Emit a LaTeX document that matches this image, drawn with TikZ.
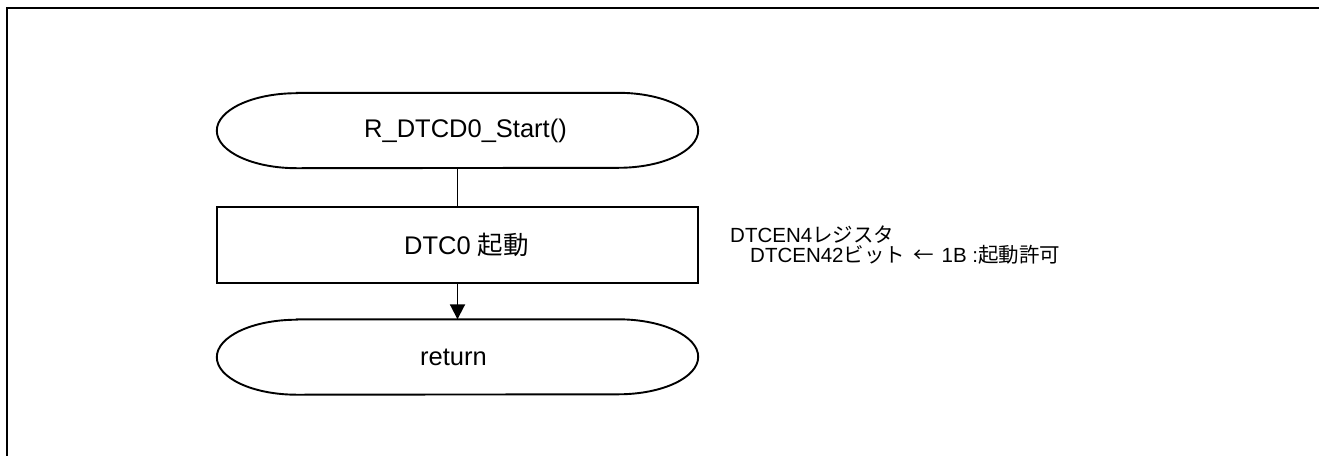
\documentclass[tikz,border=0pt]{standalone}
\usepackage{fontspec}
\setmainfont{Liberation Sans}
\newfontfamily\cjk{Noto Sans CJK JP}
\usetikzlibrary{arrows.meta}
\tikzset{
  lw/.style={line width=1.9pt},
  termbox/.style={minimum width=481pt, minimum height=75pt, inner sep=0pt, font=\fontsize{25.5}{28}\selectfont},
  procbox/.style={draw, lw, minimum width=481pt, minimum height=76pt, inner sep=0pt, font=\fontsize{25.5}{28}\selectfont},
  note/.style={anchor=base west, inner sep=0pt, font=\fontsize{20.5}{22}\selectfont},
  conn/.style={lw},
  arr/.style={lw, -{Triangle[length=15pt,width=15pt]}}
}
\begin{document}
\begin{tikzpicture}[x=1pt,y=-1pt]
\useasboundingbox (0,0) rectangle (1319,456);
\fill[white] (0,0) rectangle (1319,456);
\coordinate (ftop) at (1319,8);
\coordinate (fcorner) at (7,8);
\coordinate (fbot) at (7,456);
\draw[line width=2.6pt] (ftop) -- (fcorner) -- (fbot);

\node[termbox] (start) at (457.5,130.5) {\hspace*{16pt}R\_DTCD0\_Start()};
\node[procbox] (proc) at (457.5,245) {\hspace*{18pt}DTC0 {\cjk 起動}};
\node[termbox] (ret) at (457.5,357) {return\hspace*{8pt}};

\foreach \n in {start,ret}{
  \draw[lw] ([xshift=80pt]\n.north west) -- ([xshift=-80pt]\n.north east)
    arc[start angle=90,end angle=-90,x radius=80pt,y radius=37.5pt]
    -- ([xshift=80pt]\n.south west)
    arc[start angle=270,end angle=90,x radius=80pt,y radius=37.5pt] -- cycle;
}

\draw[conn] (start.south) -- (proc.north);
\draw[arr] (proc.south) -- (ret.north);

\node[note] (n1) at (730,242) {DTCEN4{\cjk レジスタ}};
\node[note] (n2) at (750,262) {DTCEN42{\cjk ビット}\hspace{8pt}{\cjk ←}\hspace{8pt}1B :{\cjk 起動許可}};
\end{tikzpicture}
\end{document}
